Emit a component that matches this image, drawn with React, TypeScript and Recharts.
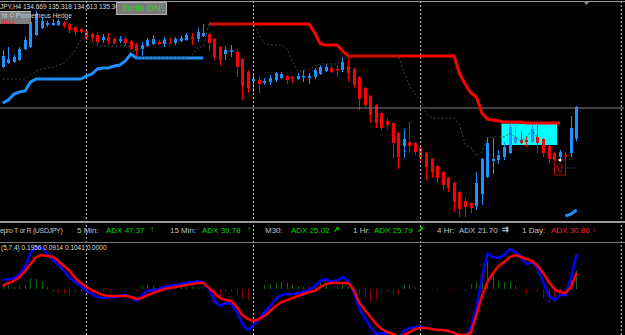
import React from 'react';
import { ComposedChart, Bar, Line, XAxis, YAxis, ReferenceLine, ReferenceArea, ReferenceDot } from 'recharts';

// USDJPY H4 candles
const opens = [
  136.10, 136.18, 136.20, 136.24, 136.46, 136.50, 136.74, 136.88, 136.94, 136.94,
  136.94, 136.98, 136.96, 136.90, 136.86, 136.82, 136.76, 136.74, 136.64, 136.70,
  136.66, 136.62, 136.66, 136.62, 136.56, 136.46, 136.52, 136.56, 136.60, 136.56,
  136.60, 136.58, 136.62, 136.64, 136.70, 136.66, 136.72, 136.76, 136.66, 136.50,
  136.36, 136.40, 136.40, 136.26, 136.00, 135.82, 135.84, 135.78, 135.80, 135.84,
  135.88, 135.92, 135.90, 135.86, 135.90, 135.88, 135.90, 135.96, 136.02, 136.08,
  136.06, 136.04, 136.12, 136.06, 135.90, 135.68, 135.52, 135.34, 135.18, 135.02,
  134.98, 134.78, 134.52, 134.60, 134.58, 134.48, 134.38, 134.26, 134.12, 134.00,
  133.88, 133.78, 133.60, 133.42, 133.38, 133.32, 133.56, 133.90, 134.22, 134.24,
  134.30, 134.38, 134.58, 134.64, 134.64, 134.60, 134.70, 134.66, 134.52, 134.38,
  134.30, 134.34, 134.38, 134.669,
];
const highs = [
  136.44, 136.50, 136.34, 136.50, 136.70, 137.08, 137.22, 137.10, 137.02, 137.06,
  137.06, 137.02, 136.98, 136.92, 136.88, 136.84, 136.78, 136.78, 136.76, 136.78,
  136.68, 136.72, 136.70, 136.64, 136.58, 136.60, 136.68, 136.74, 136.64, 136.70,
  136.68, 136.70, 136.72, 136.78, 136.78, 136.88, 136.96, 136.78, 136.68, 136.52,
  136.52, 136.54, 136.44, 136.28, 136.04, 135.94, 135.90, 135.88, 135.94, 136.00,
  136.00, 135.94, 135.92, 135.98, 136.04, 135.98, 136.08, 136.14, 136.16, 136.12,
  136.14, 136.30, 136.28, 136.08, 135.92, 135.70, 135.54, 135.36, 135.20, 135.08,
  135.00, 134.80, 134.86, 135.00, 134.60, 134.50, 134.40, 134.28, 134.14, 134.02,
  133.90, 133.80, 133.62, 133.48, 133.40, 134.00, 134.28, 134.70, 134.68, 134.44,
  134.60, 134.98, 134.90, 134.82, 134.70, 134.94, 134.94, 134.68, 134.54, 134.40,
  134.44, 134.40, 135.12, 135.318,
];
const lows = [
  136.08, 136.16, 136.18, 136.22, 136.44, 136.48, 136.72, 136.86, 136.90, 136.92,
  136.92, 136.88, 136.78, 136.74, 136.78, 136.64, 136.60, 136.54, 136.58, 136.56,
  136.56, 136.58, 136.52, 136.44, 136.30, 136.32, 136.50, 136.54, 136.54, 136.50,
  136.56, 136.54, 136.60, 136.62, 136.54, 136.60, 136.70, 136.42, 136.24, 136.12,
  136.24, 136.30, 135.90, 135.44, 135.58, 135.60, 135.58, 135.74, 135.74, 135.80,
  135.86, 135.76, 135.78, 135.84, 135.80, 135.76, 135.86, 135.94, 136.00, 135.98,
  135.90, 136.00, 135.80, 135.68, 135.24, 135.30, 134.98, 134.88, 134.84, 134.84,
  134.28, 134.06, 134.28, 134.38, 134.34, 134.18, 133.84, 133.88, 133.78, 133.64,
  133.60, 133.20, 133.10, 133.10, 133.18, 133.24, 133.34, 133.88, 133.96, 134.16,
  134.24, 134.36, 134.56, 134.56, 134.50, 134.58, 134.38, 134.30, 134.18, 134.20,
  134.20, 134.26, 134.30, 134.613,
];
const closes = [
  136.32, 136.26, 136.30, 136.46, 136.64, 137.00, 137.16, 137.02, 136.98, 136.98,
  137.02, 136.92, 136.84, 136.80, 136.80, 136.68, 136.68, 136.60, 136.70, 136.62,
  136.58, 136.66, 136.58, 136.46, 136.42, 136.54, 136.64, 136.66, 136.56, 136.64,
  136.58, 136.66, 136.68, 136.74, 136.66, 136.80, 136.78, 136.58, 136.30, 136.24,
  136.44, 136.44, 136.10, 135.72, 135.68, 135.86, 135.76, 135.82, 135.88, 135.98,
  135.96, 135.84, 135.86, 135.92, 135.92, 135.92, 136.04, 136.10, 136.10, 136.00,
  136.04, 136.20, 135.98, 135.74, 135.46, 135.34, 135.14, 134.98, 134.88, 134.94,
  134.58, 134.30, 134.66, 134.52, 134.40, 134.28, 134.10, 134.00, 133.88, 133.74,
  133.68, 133.40, 133.26, 133.30, 133.28, 133.78, 134.26, 134.58, 134.26, 134.34,
  134.50, 134.90, 134.70, 134.58, 134.60, 134.86, 134.58, 134.38, 134.26, 134.24,
  134.40, 134.32, 134.88, 135.302,
];

// turtle channel (upper red, lower blue) and the dotted trailing stop
const upperBand = [
  null, null, null, null, null, null, null, null, null, null,
  null, null, null, null, null, null, null, null, null, null,
  null, null, null, null, null, null, null, null, null, null,
  null, null, null, null, null, null, null, 136.96, 136.96, 136.96,
  136.96, 136.96, 136.96, 136.96, 136.96, 136.96, 136.96, 136.96, 136.96, 136.96,
  136.96, 136.96, 136.96, 136.96, 136.96, 136.96, 136.78, 136.56, 136.54, 136.54,
  136.54, 136.42, 136.32, 136.32, 136.32, 136.32, 136.32, 136.32, 136.32, 136.32,
  136.32, 136.32, 136.32, 136.32, 136.32, 136.32, 136.32, 136.32, 136.32, 136.32,
  136.32, 136.32, 135.96, 135.76, 135.58, 135.50, 135.18, 135.06, 135.04, 135.02,
  135.00, 135.00, 135.00, 135.00, 134.98, 134.98, 134.98, 134.98, 134.98, 134.98,
  134.98, null, null, null,
];
const lowerBand = [
  135.38, 135.44, 135.56, 135.60, 135.62, 135.80, 135.86, 135.86, 135.86, 135.86,
  135.86, 135.86, 135.86, 135.86, 135.86, 135.92, 135.96, 136.06, 136.08, 136.08,
  136.12, 136.14, 136.22, 136.36, 136.28, 136.28, 136.28, 136.28, 136.28, 136.28,
  136.28, 136.28, 136.28, 136.28, 136.28, 136.28, 136.28, null, null, null,
  null, null, null, null, null, null, null, null, null, null,
  null, null, null, null, null, null, null, null, null, null,
  null, null, null, null, null, null, null, null, null, null,
  null, null, null, null, null, null, null, null, null, null,
  null, null, null, null, null, null, null, null, null, null,
  null, null, null, null, null, null, null, null, null, null,
  null, 133.12, 133.16, 133.24,
];
const trailStop = [
  135.86, 135.86, 135.86, 135.86, 135.86, 135.94, 136.02, 136.06, 136.08, 136.10,
  136.14, 136.18, 136.28, 136.44, 136.64, 136.68, 136.58, 136.52, 136.52, 136.52,
  136.52, 136.52, 136.52, 136.52, 136.28, 136.28, 136.28, 136.28, 136.28, 136.28,
  136.28, 136.28, 136.28, 136.28, 136.34, 136.48, 136.52, 136.96, 136.96, 136.96,
  136.96, 136.96, 136.96, 136.96, 136.96, 136.96, 136.74, 136.56, 136.54, 136.54,
  136.54, 136.46, 136.20, 136.02, 136.02, 136.04, 136.12, 136.16, 136.16, 136.16,
  136.16, 136.24, 136.32, 136.32, 136.32, 136.32, 136.32, 136.32, 136.32, 136.32,
  136.32, 136.32, 136.00, 135.72, 135.56, 135.44, 135.18, 135.08, 135.08, 135.08,
  135.08, 135.08, 134.94, 134.54, 134.50, 134.32, 134.40, 134.68, 134.70, 134.70,
  134.70, 134.78, 134.70, 134.62, 134.70, 134.84, 134.68, null, null, null,
  null, 134.08, 134.08, 134.08,
];

// oscillator in the lower window
const oscMain = [
  0.050, 0.056, 0.056, 0.084, 0.123, 0.202, 0.235, 0.230, 0.196, 0.162,
  0.134, 0.101, 0.062, 0.039, 0.017, -0.011, -0.028, -0.045, -0.050, -0.045,
  -0.045, -0.039, -0.034, -0.045, -0.067, -0.034, -0.011, -0.006, 0.000, 0.011,
  0.017, 0.022, 0.028, 0.034, 0.039, 0.045, 0.034, 0.000, -0.067, -0.095,
  -0.078, -0.084, -0.129, -0.196, -0.230, -0.202, -0.168, -0.129, -0.095, -0.056,
  -0.034, -0.028, -0.028, -0.022, -0.017, -0.006, 0.017, 0.045, 0.056, 0.039,
  0.050, 0.067, 0.045, -0.017, -0.112, -0.162, -0.213, -0.252, -0.246, -0.252,
  -0.286, -0.286, -0.235, -0.218, -0.213, -0.213, -0.218, -0.224, -0.230, -0.230,
  -0.235, -0.246, -0.258, -0.274, -0.218, -0.106, 0.062, 0.196, 0.179, 0.174,
  0.190, 0.224, 0.207, 0.179, 0.140, 0.151, 0.112, 0.039, -0.039, -0.062,
  -0.034, -0.034, 0.062, 0.1956,
];
const oscSignal = [
  0.017, 0.034, 0.045, 0.067, 0.101, 0.140, 0.179, 0.190, 0.185, 0.179,
  0.157, 0.129, 0.101, 0.062, 0.034, 0.011, -0.006, -0.022, -0.034, -0.039,
  -0.039, -0.039, -0.039, -0.045, -0.056, -0.050, -0.034, -0.022, -0.011, 0.000,
  0.006, 0.011, 0.017, 0.022, 0.028, 0.034, 0.034, 0.006, -0.022, -0.050,
  -0.062, -0.067, -0.101, -0.146, -0.168, -0.179, -0.168, -0.151, -0.123, -0.095,
  -0.073, -0.062, -0.050, -0.039, -0.028, -0.017, -0.011, 0.011, 0.028, 0.034,
  0.034, 0.034, 0.034, -0.006, -0.078, -0.118, -0.157, -0.196, -0.224, -0.241,
  -0.252, -0.269, -0.258, -0.241, -0.224, -0.218, -0.218, -0.224, -0.230, -0.230,
  -0.235, -0.246, -0.258, -0.258, -0.246, -0.146, -0.039, 0.039, 0.090, 0.129,
  0.151, 0.179, 0.190, 0.179, 0.168, 0.157, 0.129, 0.090, 0.039, 0.000,
  -0.017, -0.022, 0.011, 0.0914,
];
const oscHist = [
  0.030, 0.022, 0.011, 0.017, 0.022, 0.062, 0.056, 0.040, 0.011, -0.017,
  -0.023, -0.028, -0.039, -0.023, -0.017, -0.022, -0.022, -0.023, -0.016, -0.006,
  -0.006, 0.000, 0.005, 0.000, -0.011, 0.016, 0.023, 0.016, 0.011, 0.011,
  0.011, 0.011, 0.011, 0.012, 0.011, 0.011, 0.000, -0.006, -0.045, -0.045,
  -0.016, -0.017, -0.028, -0.050, -0.062, -0.023, 0.000, 0.022, 0.028, 0.039,
  0.039, 0.034, 0.022, 0.017, 0.011, 0.011, 0.028, 0.034, 0.028, 0.005,
  0.016, 0.033, 0.011, -0.011, -0.034, -0.050, -0.070, -0.060, -0.030, -0.020,
  -0.040, -0.030, 0.023, 0.023, 0.011, 0.005, -0.004, -0.004, -0.005, -0.004,
  -0.004, -0.005, -0.006, -0.016, 0.028, 0.040, 0.101, 0.157, 0.089, 0.045,
  0.039, 0.045, 0.017, 0.000, -0.028, -0.006, -0.017, -0.051, -0.078, -0.062,
  -0.017, -0.012, 0.051, 0.1041,
];

const weekStarts = [15, 45, 75];
const SHIFT_BARS = 8; // empty room right of the last bar
const bidPrice = 135.28;
const boxZone = { from: 90, to: 99, low: 134.54, high: 134.97 };
const buySignal = { bar: 100, price: 134.24 };

const adxFrames = ['5 Min:', '15 Min:', 'M30:', '1 Hr:', '4 Hr:', '1 Day:'];
const adxValues = [47.37, 39.78, 25.02, 25.79, 21.7, 30.86];
const adxTrend = ['up', 'up', 'rising', 'rising', 'flat', 'down'];

// x of label, value, arrow for each ADX cell
const ADX_X = [[77, 106, 150], [170, 202, 247], [265, 291, 333], [353, 374, 417], [437, 459, 502], [522, 551, 592]];

const BULL = '#1E90FF';
const BEAR = '#FF0000';
const GRID = '#c8c8c8';
const FONT = '"Liberation Sans", Arial, sans-serif';

const rows = Array.from({ length: opens.length + SHIFT_BARS }, (_, i) => ({
  i,
  range: i < opens.length ? [lows[i], highs[i]] : null,
  open: opens[i] ?? null,
  high: highs[i] ?? null,
  low: lows[i] ?? null,
  close: closes[i] ?? null,
  upper: upperBand[i] ?? null,
  lower: lowerBand[i] ?? null,
  trail: trailStop[i] ?? null,
}));

const subRows = Array.from({ length: opens.length + SHIFT_BARS }, (_, i) => ({
  i,
  main: oscMain[i] ?? null,
  signal: oscSignal[i] ?? null,
  hist: oscHist[i] ?? null,
}));

const Candle = (props: any) => {
  const { x, y, width, height, payload } = props;
  if (!payload || payload.open == null) return <g />;
  const top = Math.min(y, y + height);
  const h = Math.abs(height);
  const span = payload.high - payload.low;
  const k = span > 0 ? h / span : 0;
  const yOpen = top + (payload.high - payload.open) * k;
  const yClose = top + (payload.high - payload.close) * k;
  const color = payload.close >= payload.open ? BULL : BEAR;
  const cx = Math.round(x + width / 2);
  return (
    <g>
      <line x1={cx + 0.5} x2={cx + 0.5} y1={top} y2={top + h} stroke={color} strokeWidth={1} />
      <rect x={cx - 1} y={Math.min(yOpen, yClose)} width={3} height={Math.max(1.5, Math.abs(yOpen - yClose))} fill={color} />
    </g>
  );
};

const HistBar = (props: any) => {
  const { x, y, width, height, payload } = props;
  if (!payload || payload.hist == null) return <g />;
  const top = Math.min(y, y + height);
  const cx = Math.round(x + width / 2);
  return <rect x={cx} y={top} width={1} height={Math.max(Math.abs(height), 0.5)} fill={payload.hist >= 0 ? '#0a6a0a' : '#8b0000'} />;
};

const SignalMark = (props: any) => {
  const { cx, cy } = props;
  const c = '#b01010';
  return (
    <g>
      <rect x={cx - 5.5} y={cy} width={11} height={15} fill="none" stroke={c} strokeWidth={1} />
      <path
        d={`M${cx},${cy + 3} L${cx + 3.5},${cy + 7} L${cx + 1.5},${cy + 7} L${cx + 1.5},${cy + 12} L${cx - 1.5},${cy + 12} L${cx - 1.5},${cy + 7} L${cx - 3.5},${cy + 7} Z`}
        fill="none"
        stroke={c}
        strokeWidth={1}
      />
      <rect x={cx - 1.2} y={cy - 1.2} width={2.5} height={2.5} fill="#ffffff" />
    </g>
  );
};

const trendColor = (t: string) => (t === 'down' ? '#ff2020' : t === 'flat' ? '#c0c0c0' : '#00d400');
const trendGlyph = (t: string) => (t === 'down' ? '↓' : t === 'flat' ? '⇉' : t === 'rising' ? '↗' : '↑');

const last = opens.length - 1;
const header = `JPY,H4 ${opens[last]} ${highs[last]} ${lows[last]} ${closes[last]}`;
const oscLabel = `(5,7,4) ${oscMain[last].toFixed(4)} ${oscSignal[last].toFixed(4)} ${oscHist[last].toFixed(4)} 0.0000`;

export default function App() {
  const edge = rows.length - 1;
  return (
    <div style={{ position: 'fixed', left: 0, top: 0, width: 625, height: 335, background: '#000', overflow: 'hidden', fontFamily: FONT }}>
      <div style={{ position: 'absolute', left: 0, top: 0 }}>
        <ComposedChart width={625} height={243} data={rows} margin={{ top: 0, right: 1, bottom: 0, left: 0 }}>
          <XAxis dataKey="i" hide />
          <YAxis hide domain={[132.58, 137.44]} allowDataOverflow />
          <ReferenceArea x1={boxZone.from} x2={boxZone.to} y1={boxZone.low} y2={boxZone.high} fill="#00FFFF" fillOpacity={1} stroke="none" />
          {weekStarts.map((w) => (
            <ReferenceLine key={w} x={w} stroke={GRID} strokeDasharray="2 2" />
          ))}
          <ReferenceLine x={edge} stroke={GRID} strokeDasharray="2 2" />
          <ReferenceLine y={bidPrice} stroke="#808080" />
          <Bar dataKey="range" shape={<Candle />} isAnimationActive={false} />
          <Line dataKey="upper" stroke="#FF0000" strokeWidth={3} dot={false} activeDot={false} isAnimationActive={false} />
          <Line dataKey="lower" stroke={BULL} strokeWidth={3} dot={false} activeDot={false} isAnimationActive={false} />
          <Line dataKey="trail" stroke="#2F4F4F" strokeWidth={1} strokeDasharray="2 2" dot={false} activeDot={false} isAnimationActive={false} />
          <ReferenceDot x={buySignal.bar} y={buySignal.price} shape={SignalMark} />
        </ComposedChart>
      </div>

      <div style={{ position: 'absolute', left: 0, top: 243 }}>
        <ComposedChart width={625} height={92} data={subRows} margin={{ top: 0, right: 1, bottom: 0, left: 0 }}>
          <XAxis dataKey="i" hide />
          <YAxis hide domain={[-0.2576, 0.2576]} allowDataOverflow />
          {weekStarts.map((w) => (
            <ReferenceLine key={w} x={w} stroke={GRID} strokeDasharray="2 2" />
          ))}
          <ReferenceLine x={edge} stroke={GRID} strokeDasharray="2 2" />
          <Bar dataKey="hist" shape={<HistBar />} isAnimationActive={false} />
          <Line dataKey="main" stroke="#0000FF" strokeWidth={2.5} dot={false} activeDot={false} isAnimationActive={false} />
          <Line dataKey="signal" stroke="#FF0000" strokeWidth={2.5} dot={false} activeDot={false} isAnimationActive={false} />
        </ComposedChart>
      </div>

      {/* window frame */}
      <div style={{ position: 'absolute', left: 0, top: 1, width: 625, height: 1, background: '#9a9a9a' }} />
      <svg style={{ position: 'absolute', left: 583, top: 1 }} width={8} height={5}>
        <polygon points="0,0 7,0 3.5,4" fill="#8a8a8a" />
      </svg>
      <div style={{ position: 'absolute', left: 0, top: 221, width: 625, height: 22, boxSizing: 'border-box', borderTop: '2px solid #9c9c9c', borderBottom: '1px solid #7c7c7c' }} />

      {/* main window labels */}
      <div style={{ position: 'absolute', left: 0, top: 2.5, fontSize: 6.5, lineHeight: '8px', color: '#dcdcdc', whiteSpace: 'nowrap' }}>{header}</div>
      <div style={{ position: 'absolute', left: 0, top: 11, width: 31, height: 13, background: '#808080', borderTop: '1px solid #b8b8b8', boxSizing: 'border-box' }} />
      <div style={{ position: 'absolute', left: 2, top: 11.5, fontSize: 6.5, lineHeight: '7px', color: '#cfcfcf', whiteSpace: 'nowrap' }}>ht © Prometheus Hedge</div>
      <div style={{ position: 'absolute', left: 1, top: 18.5, fontSize: 6, lineHeight: '6px', color: '#ff0000', whiteSpace: 'nowrap' }}>SELL</div>
      <div style={{ position: 'absolute', left: 116, top: 2, width: 51, height: 13, boxSizing: 'border-box', background: '#7a7a7a', border: '1px solid #b0b0b0', color: '#22d822', fontSize: 9, lineHeight: '11px', textAlign: 'center', whiteSpace: 'nowrap' }}>
        Turtle ON
      </div>

      {/* ADX strip */}
      <div style={{ position: 'absolute', left: 0, top: 225.5, fontSize: 7, letterSpacing: '-0.35px', lineHeight: '10px', color: '#c0c0c0', whiteSpace: 'nowrap' }}>epro T or R (USDJPY)</div>
      {adxFrames.map((f, k) => (
        <React.Fragment key={f}>
          <div style={{ position: 'absolute', left: ADX_X[k][0], top: 225.5, fontSize: 8, lineHeight: '10px', color: '#c0c0c0', whiteSpace: 'nowrap' }}>{f}</div>
          <div style={{ position: 'absolute', left: ADX_X[k][1], top: 225.5, fontSize: 8, lineHeight: '10px', color: trendColor(adxTrend[k]), whiteSpace: 'nowrap' }}>
            {`ADX ${adxValues[k].toFixed(2)}`}
          </div>
          <div style={{ position: 'absolute', left: ADX_X[k][2], top: 225, fontSize: 8, fontWeight: 'bold', lineHeight: '10px', color: trendColor(adxTrend[k]), whiteSpace: 'nowrap' }}>
            {trendGlyph(adxTrend[k])}
          </div>
        </React.Fragment>
      ))}

      {/* oscillator label */}
      <div style={{ position: 'absolute', left: 1, top: 243.5, fontSize: 6.5, lineHeight: '8px', color: '#dcdcdc', whiteSpace: 'nowrap' }}>{oscLabel}</div>
    </div>
  );
}
